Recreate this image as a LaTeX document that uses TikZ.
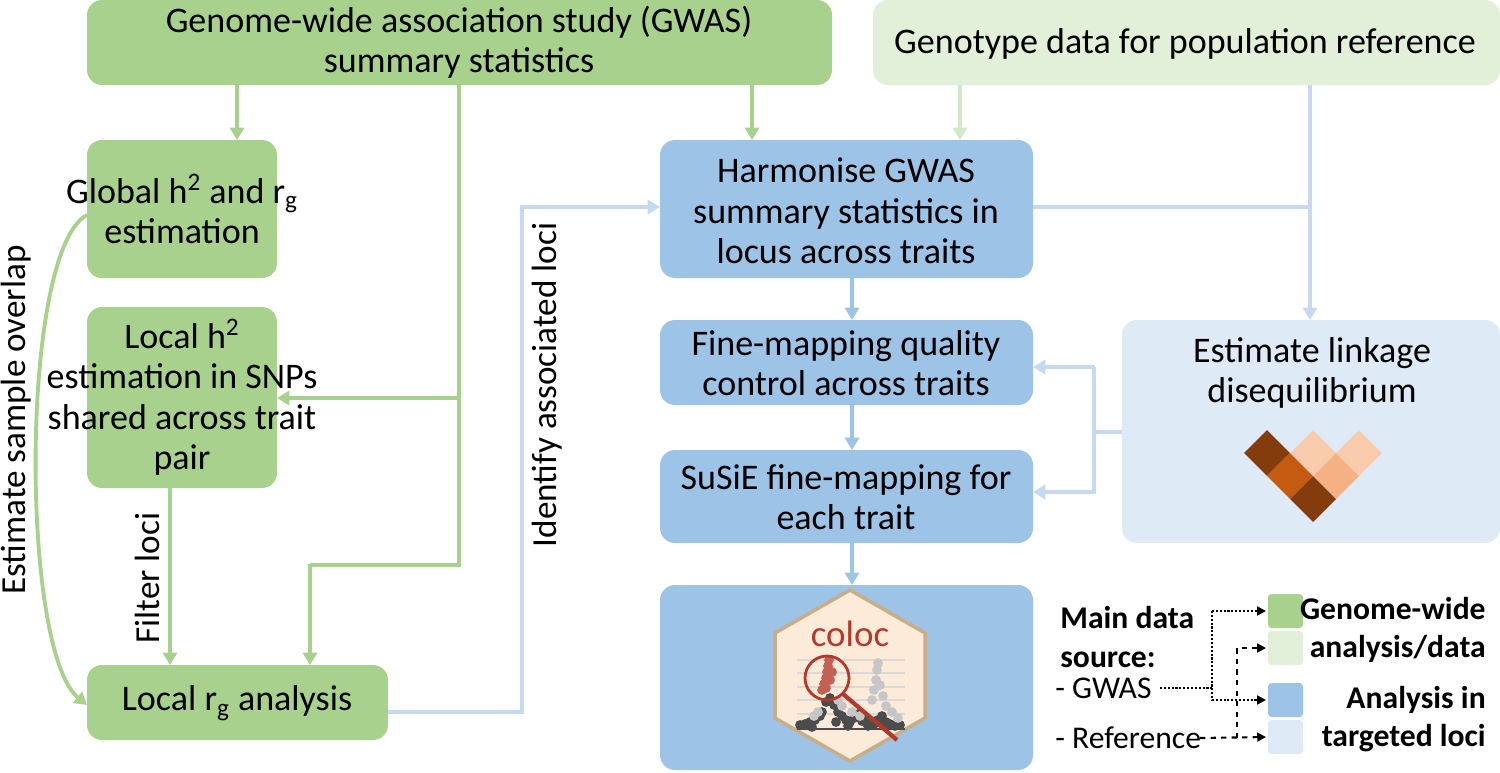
\documentclass[tikz,border=0pt]{standalone}
\usepackage{fontspec}
\setmainfont{Carlito}
\usetikzlibrary{arrows.meta}
\definecolor{gA}{HTML}{A9D18E}
\definecolor{gB}{HTML}{E2F0D9}
\definecolor{bA}{HTML}{9DC3E6}
\definecolor{bB}{HTML}{DEEBF7}
\definecolor{bL}{HTML}{C5DAF0}
\definecolor{gL}{HTML}{D3E8C5}
\definecolor{dk}{HTML}{843C0C}
\definecolor{md}{HTML}{C55A11}
\definecolor{lt}{HTML}{F8CBAD}
\definecolor{lm}{HTML}{F4B183}
\definecolor{cr}{HTML}{B5392B}
\definecolor{hx}{HTML}{FDEBD9}
\definecolor{hb}{HTML}{C9AD87}
\begin{document}
\begin{tikzpicture}[x=0.02cm,y=-0.02cm,
 box/.style={align=center,font=\fontsize{20.5}{23}\selectfont,inner sep=0},
 tip/.style={-{Triangle[length=7pt,width=8pt]}},
 gl/.style={draw=gA,line width=2.2pt},
 ga/.style={gl,tip},
 ba/.style={draw=bA,line width=2.2pt,tip},
 bl/.style={draw=bL,line width=2.2pt},
 bla/.style={bl,tip},
 gla/.style={draw=gL,line width=2.2pt,tip},
 sq/.style={rotate=45,minimum size=0.65cm,inner sep=0,draw=none},
 lg/.style={font=\fontsize{18}{22}\selectfont,inner sep=0},
 lgb/.style={font=\fontsize{18}{22}\selectfont\bfseries,inner sep=0},
 lsq/.style={rounded corners=2pt},
 rot/.style={rotate=90,font=\fontsize{20}{22}\selectfont,inner sep=0}]
\useasboundingbox (0,0) rectangle (1500,772);
% boxes
\fill[gA,rounded corners=0.3cm] (87,0) rectangle (832,85);
\node[box] (gwas) at (459,42) {Genome-wide association study (GWAS)\\summary statistics};
\fill[gB,rounded corners=0.3cm] (873,0) rectangle (1500,85);
\node[box] (geno) at (1185,44) {Genotype data for population reference};
\fill[gA,rounded corners=0.3cm] (87,140) rectangle (277,278);
\node[box] (glob) at (182,209) {Global h\textsuperscript{2} and r\textsubscript{g}\\estimation};
\fill[gA,rounded corners=0.3cm] (87,307) rectangle (277,488);
\node[box] (loch) at (182,397) {Local h\textsuperscript{2}\\estimation in SNPs\\shared across trait\\pair};
\fill[gA,rounded corners=0.3cm] (87,665) rectangle (388,740);
\node[box] (locr) at (237,703) {Local r\textsubscript{g} analysis};
\fill[bA,rounded corners=0.3cm] (660,140) rectangle (1033,278);
\node[box] (harm) at (846,211) {Harmonise GWAS\\summary statistics in\\locus across traits};
\fill[bA,rounded corners=0.3cm] (660,320) rectangle (1033,405);
\node[box] (qc) at (846,363) {Fine-mapping quality\\control across traits};
\fill[bA,rounded corners=0.3cm] (660,450) rectangle (1033,543);
\node[box] (susie) at (846,497) {SuSiE fine-mapping for\\each trait};
\fill[bA,rounded corners=0.3cm] (660,585) rectangle (1033,770);
\fill[bB,rounded corners=0.3cm] (1122,320) rectangle (1500,543);
\node[box] (ld) at (1312,373) {Estimate linkage\\disequilibrium};
% LD heatmap
\node[sq,fill=dk] at (1267,453) {};
\node[sq,fill=lt] at (1313,453) {};
\node[sq,fill=lt] at (1359,453) {};
\node[sq,fill=md] at (1290,476) {};
\node[sq,fill=lm] at (1336,476) {};
\node[sq,fill=dk] at (1313,499) {};
% coloc hex
\draw[hb,fill=hx,line width=2pt] (850,590) -- (925,633) -- (925,718) -- (850,761) -- (775,718) -- (775,633) -- cycle;
\node[text=cr,font=\fontsize{21}{22}\selectfont] (coloc) at (850,634) {coloc};
\foreach \yy in {660,673,687,700,714} \draw[gray!30,line width=0.6pt] (797,\yy) -- (905,\yy);
\draw[black!70,line width=1pt] (797,729) -- (905,729);
\foreach \px/\py in {800/725,805/724,810/722,815/720,820/716,822/712,826/702,830/698,834/705,838/712,842/716,846/720,850/722,854/718,858/714,862/721,866/718,870/722,874/724,878/720,882/716,886/722,890/724,895/726,900/725,812/727,836/722,848/726,868/726,884/726}
 \fill[black!70] (\px,\py) circle (2.8pt);
\foreach \px/\py in {814/716,818/712,838/700,842/706,852/712,860/716,872/700,874/690,876/680,877/670,878/663,880/685,883/696,886/706,892/712,898/718}
 \fill[gray!45] (\px,\py) circle (2.8pt);
\foreach \px/\py in {822/690,824/684,826/678,827/672,828/666,829/660,830/680,832/672,826/688}
 \fill[cr!80] (\px,\py) circle (2.8pt);
\draw[cr,line width=1.6pt] (827,678) circle (22);
\draw[cr,line width=2.4pt] (843,694) -- (897,740);
% arrows
\draw[ga] (237,85) -- (237,140);
\draw[ga] (752,85) -- (752,140);
\draw[gl] (459,85) -- (459,565) -- (310,565);
\draw[ga] (459,398) -- (277,398);
\draw[ga] (310,563.9) -- (310,665);
\draw[ga] (170,488) -- (170,665);
\node[rot] at (147,578) {Filter loci};
\draw[ga] (87,215) .. controls (20,250) and (20,650) .. (87,705);
\node[rot] at (16,420) {Estimate sample overlap};
\draw[bla] (388,712) -- (522,712) -- (522,207) -- (660,207);
\node[rot] at (547,385) {Identify associated loci};
\draw[gla] (960,85) -- (960,140);
\draw[bla] (1310,85) -- (1310,320);
\draw[bl] (1033,207) -- (1310,207);
\draw[bl] (1122,432) -- (1094,432);
\draw[bla] (1094,367) -- (1094,492) -- (1033,492);
\draw[bla] (1095,367) -- (1033,367);
\draw[ba] (852,278) -- (852,320);
\draw[ba] (852,405) -- (852,450);
\draw[ba] (852,543) -- (852,585);
% legend
\node[lgb,anchor=north west,align=left] (main) at (1060,606) {Main data\\source:};
\node[lg,anchor=west] (lgw) at (1055,688) {- GWAS};
\node[lg,anchor=west] (lref) at (1055,738) {- Reference};
\fill[gA,lsq] (1268,594) rectangle (1303,628);
\fill[gB,lsq] (1268,631) rectangle (1303,665);
\fill[bA,lsq] (1268,683) rectangle (1303,717);
\fill[bB,lsq] (1268,720) rectangle (1303,754);
\coordinate (sq1) at (1266,611);
\coordinate (sq2) at (1266,648);
\coordinate (sq3) at (1266,700);
\coordinate (sq4) at (1266,737);
\node[lgb,anchor=east,align=right] at (1486,630) {Genome-wide\\analysis/data};
\node[lgb,anchor=east,align=right] at (1486,719) {Analysis in\\targeted loci};
\draw[densely dotted,line width=1.2pt] (1160,688) -- (1212,688);
\draw[densely dotted,line width=1.2pt,-{Triangle[length=5pt,width=5pt]}] (1212,611) -- (1212,700) -- (sq3);
\draw[densely dotted,line width=1.2pt,-{Triangle[length=5pt,width=5pt]}] (1212,611) -- (sq1);
\draw[dashed,line width=1.2pt,-{Triangle[length=5pt,width=5pt]}] (1200,738) -- (sq4);
\draw[dashed,line width=1.2pt,-{Triangle[length=5pt,width=5pt]}] (1237,738) -- (1237,648) -- (sq2);
\end{tikzpicture}
\end{document}
